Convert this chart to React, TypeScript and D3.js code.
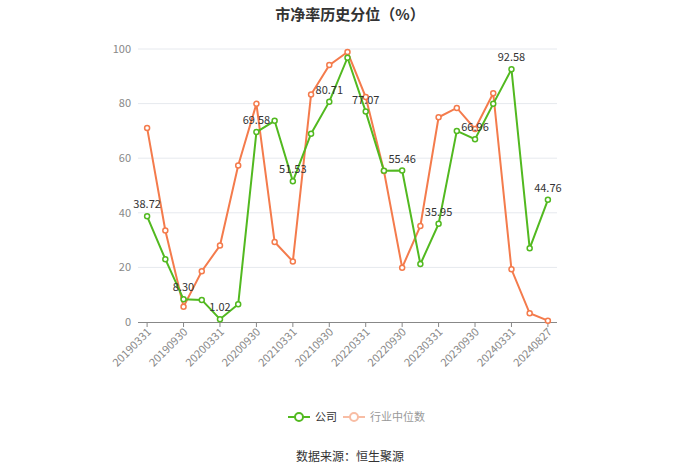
import React from "react";
import * as d3 from "d3";

const categories = [
  "20190331", "20190630", "20190930", "20191231", "20200331", "20200630",
  "20200930", "20201231", "20210331", "20210630", "20210930", "20211231",
  "20220331", "20220630", "20220930", "20221231", "20230331", "20230630",
  "20230930", "20231231", "20240331", "20240630", "20240827",
];
const companyValues = [
  38.72, 23.0, 8.3, 8.1, 1.02, 6.5, 69.58, 73.7, 51.53, 69.0, 80.71, 96.8,
  77.07, 55.4, 55.46, 21.2, 35.95, 70.0, 66.96, 79.9, 92.58, 27.0, 44.76,
];
const industryValues = [
  71.1, 33.5, 5.6, 18.6, 28.0, 57.3, 79.9, 29.3, 22.2, 83.3, 94.1, 98.9,
  82.4, 55.3, 19.9, 35.2, 75.0, 78.4, 70.7, 83.8, 19.3, 3.2, 0.5,
];
const yTicks = [0, 20, 40, 60, 80, 100];
const seriesNames = ["公司", "行业中位数"];
const title = "市净率历史分位（%）";
const source = "数据来源：恒生聚源";

const W = 700;
const H = 474;
const GREEN = "#52b920";
const ORANGE = "#f47b4c";
const FONT = "'Noto Sans CJK SC', 'Noto Sans', sans-serif";

export default function App() {
  const left = 138, right = 557, top = 49, bottom = 322;
  const x = d3.scaleBand<string>().domain(categories).range([left, right]).padding(0);
  const cx = (c: string) => (x(c) as number) + x.bandwidth() / 2;
  const y = d3.scaleLinear().domain([0, 100]).range([bottom, top]);

  const line = d3.line<number>().x((_, i) => cx(categories[i])).y((v) => y(v));

  const labelIdx = categories.map((_, i) => i).filter((i) => i % 2 === 0);

  return (
    <svg width={W} height={H} style={{ position: "absolute", left: 0, top: 0, background: "#fff" }} fontFamily={FONT}>
      <text x={350} y={20} textAnchor="middle" fontSize={15} fontWeight="bold" fill="#333">{title}</text>
      {yTicks.map((t) => (
        <g key={t}>
          {t !== 0 && <line x1={left} x2={right} y1={y(t)} y2={y(t)} stroke="#e6e9ee" strokeWidth={1} />}
          <text x={131} y={y(t)} dy="0.35em" textAnchor="end" fontSize={11} fill="#888">{t}</text>
        </g>
      ))}
      <line x1={left} x2={right} y1={bottom + 0.5} y2={bottom + 0.5} stroke="#888" strokeWidth={1} />
      {labelIdx.map((i) => {
        const px = cx(categories[i]);
        return (
          <g key={i}>
            <line x1={px} x2={px} y1={bottom} y2={bottom + 5} stroke="#888" />
            <text transform={`translate(${px + 2},${bottom + 8}) rotate(-45)`} textAnchor="end" dy="0.35em" fontSize={11} fill="#888">
              {categories[i]}
            </text>
          </g>
        );
      })}
      <path d={line(industryValues) || ""} fill="none" stroke={ORANGE} strokeWidth={2} />
      <path d={line(companyValues) || ""} fill="none" stroke={GREEN} strokeWidth={2} />
      {industryValues.map((v, i) => (
        <circle key={"o" + i} cx={cx(categories[i])} cy={y(v)} r={2.5} fill="#fff" stroke={ORANGE} strokeWidth={1.5} />
      ))}
      {companyValues.map((v, i) => (
        <circle key={"g" + i} cx={cx(categories[i])} cy={y(v)} r={2.5} fill="#fff" stroke={GREEN} strokeWidth={1.5} />
      ))}
      {labelIdx.map((i) => (
        <text key={"l" + i} x={cx(categories[i])} y={y(companyValues[i]) - 8} textAnchor="middle" fontSize={11} fill="#333">
          {companyValues[i].toFixed(2)}
        </text>
      ))}
      <g transform="translate(288,417)">
        <line x1={0} x2={22} y1={0} y2={0} stroke={GREEN} strokeWidth={2} />
        <circle cx={11} cy={0} r={4} fill="#fff" stroke={GREEN} strokeWidth={2} />
        <text x={27} y={0} dy="0.35em" fontSize={11} fill="#333">{seriesNames[0]}</text>
      </g>
      <g transform="translate(343,417)">
        <line x1={0} x2={22} y1={0} y2={0} stroke="#f8bda4" strokeWidth={2} />
        <circle cx={11} cy={0} r={4} fill="#fff" stroke="#f8bda4" strokeWidth={2} />
        <text x={27} y={0} dy="0.35em" fontSize={11} fill="#999">{seriesNames[1]}</text>
      </g>
      <text x={350} y={461} textAnchor="middle" fontSize={12} fill="#333">{source}</text>
    </svg>
  );
}
